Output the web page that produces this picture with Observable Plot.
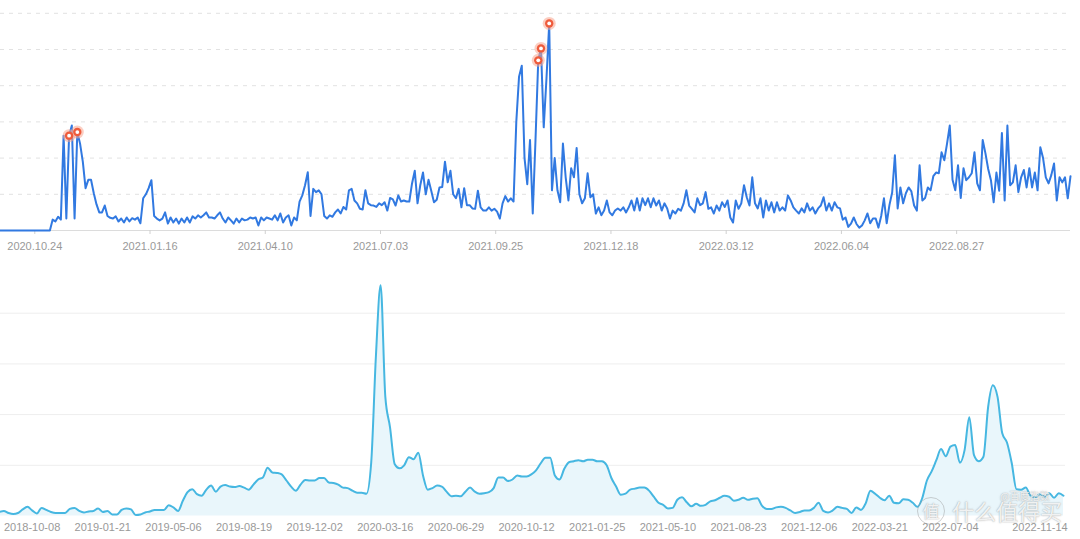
<!DOCTYPE html>
<html>
<head>
<meta charset="utf-8">
<script src="https://cdn.jsdelivr.net/npm/d3@7"></script>
<script src="https://cdn.jsdelivr.net/npm/@observablehq/plot@0.6"></script>
<style>
  html, body { margin: 0; padding: 0; background: #fff; overflow: hidden; }
  #wrap { position: relative; width: 1080px; height: 539px; }
  #wrap svg { display: block; }
  .wm { position: absolute; color: rgba(255,255,255,0.85); font-family: "Noto Sans CJK SC", sans-serif; line-height: 1;
        text-shadow: 0 0 1px rgba(120,120,120,0.55), 0 0 2px rgba(120,120,120,0.35); white-space: nowrap; }
</style>
</head>
<body>
<div id="wrap">
  <div id="top"></div>
  <div id="bottom"></div>
  <div class="wm" style="left:1000px;top:491px;font-size:10px;">@百度指数</div>
  <div class="wm" style="left:917px;top:497px;font-size:17px;width:26px;height:26px;border-radius:50%;border:1px solid rgba(150,150,150,0.45);text-align:center;line-height:26px;">值</div>
  <div class="wm" style="left:952px;top:499px;font-size:22px;">什么值得买</div>
</div>
<script>
// ---------- data: top panel (daily search index, sampled every 2 days) ----------
const topStart = "2020-09-29";
const topStepDays = 2;
const topValues = [
  0,0,0,0,0,0,0,0,0,0,
  0,0,0,0,0,0,0,0,0,30,
  25,38,30,262,33,262,290,33,272,240,
  190,117,140,140,103,72,50,50,69,40,
  35,33,39,25,33,22,36,25,34,30,
  36,20,89,100,117,139,40,33,28,33,
  50,19,36,22,33,19,33,22,36,22,
  39,33,42,36,42,50,36,36,33,42,
  50,33,22,36,28,19,33,22,33,28,
  30,36,33,36,14,36,28,36,33,30,
  42,28,47,22,36,42,14,36,28,80,
  97,125,161,40,115,106,111,100,40,33,
  42,38,50,58,47,65,58,111,115,83,
  75,60,58,111,75,70,69,65,75,70,
  78,55,90,86,69,97,80,83,80,80,
  130,165,75,125,160,100,140,110,78,85,
  119,120,190,133,165,100,89,115,64,117,
  70,70,61,60,110,64,55,55,64,55,
  60,52,33,75,95,80,89,80,300,425,
  455,200,128,250,47,250,470,503,285,420,
  572,111,200,111,78,240,147,83,172,147,
  228,100,75,89,158,92,100,47,64,42,
  55,83,50,42,55,61,55,64,50,64,
  83,55,89,55,89,70,89,64,89,69,
  83,55,75,61,33,55,47,60,55,75,
  111,69,60,50,89,70,75,106,60,64,
  47,69,55,78,65,83,36,22,83,60,
  75,125,92,69,147,75,61,89,36,83,
  55,78,50,78,55,64,55,97,83,64,
  55,47,61,50,75,55,64,47,61,69,
  92,55,75,55,78,64,61,30,36,10,
  19,36,18,8,14,28,47,20,33,33,
  8,40,89,20,70,105,208,61,119,75,
  103,119,108,69,55,180,83,90,119,111,
  150,160,158,216,194,240,290,140,111,180,
  90,172,139,147,158,216,130,111,250,213,
  170,139,78,160,110,269,83,290,125,133,
  180,106,147,167,119,172,119,160,111,230,
  200,147,130,153,185,83,147,133,147,89,
  150
];
const topPeakDates = ["2020-11-18", "2020-11-24", "2021-10-26", "2021-10-28", "2021-11-03"];
const topTickLabels = ["2020.10.24","2021.01.16","2021.04.10","2021.07.03","2021.09.25","2021.12.18","2022.03.12","2022.06.04","2022.08.27"];
const topDomain = ["2020-09-29", "2022-11-18"];
const topGrid = [100, 200, 300, 400, 500, 600];

// ---------- data: bottom panel (weekly search index) ----------
const bottomStart = "2018-08-20";
const bottomStepDays = 7;
const bottomValues = [
  8,10,6,4,6,13,18,11,5,16,
  12,8,6,6,6,14,16,10,7,9,
  10,15,8,10,3,3,12,15,13,2,
  3,7,9,12,12,12,21,17,10,30,
  47,53,43,40,52,60,48,58,61,58,
  57,59,56,52,62,72,76,95,86,85,
  82,70,58,50,62,71,70,70,75,75,
  66,65,62,56,55,50,46,46,44,105,
  315,455,235,175,102,94,100,116,112,125,
  80,52,55,60,58,48,39,40,39,48,
  56,48,44,45,47,55,76,76,69,72,
  80,78,78,82,90,104,115,115,80,72,
  93,106,108,110,108,111,111,108,108,100,
  75,58,42,44,52,54,56,56,50,38,
  26,22,15,16,32,37,27,19,24,20,
  22,29,31,36,40,38,30,32,36,32,
  34,35,20,14,14,17,18,16,11,6,
  8,11,11,16,26,10,7,11,18,16,
  14,6,17,12,25,50,44,36,31,40,
  26,25,33,32,26,18,35,70,88,110,
  132,118,137,140,105,130,195,120,108,117,
  215,258,235,163,145,105,53,52,56,40,
  37,43,38,45,36,45,40
];
const bottomTickLabels = ["2018-10-08","2019-01-21","2019-05-06","2019-08-19","2019-12-02","2020-03-16","2020-06-29","2020-10-12","2021-01-25","2021-05-10","2021-08-23","2021-12-06","2022-03-21","2022-07-04","2022-11-14"];
const bottomDomain = ["2018-08-22", "2022-12-22"];
const bottomGrid = [100, 200, 300, 400];

// ---------- build tables ----------
const parse = s => new Date(s.replace(/\./g, "-") + "T00:00:00Z");
const topData = topValues.map((v, i) => ({date: d3.utcDay.offset(parse(topStart), i * topStepDays), value: v}));
const peakSet = new Set(topPeakDates);
const topPeaks = topData.filter(d => peakSet.has(d3.utcFormat("%Y-%m-%d")(d.date)));
const bottomData = bottomValues.map((v, i) => ({date: d3.utcDay.offset(parse(bottomStart), i * bottomStepDays), value: v}));

const font = "'Liberation Sans', Arial, sans-serif";

const topChart = Plot.plot({
  width: 1080, height: 260,
  marginLeft: 0, marginRight: 10, marginTop: 12.8, marginBottom: 30,
  style: {fontFamily: font, fontSize: "11px", color: "#999", background: "transparent"},
  x: {type: "utc", domain: topDomain.map(parse)},
  y: {domain: [0, 600], axis: null},
  marks: [
    Plot.gridY(topGrid, {stroke: "#e2e2e2", strokeOpacity: 1, strokeDasharray: "4,5"}),
    Plot.ruleY([0], {stroke: "#dcdcdc"}),
    Plot.axisX(topTickLabels.map(parse), {
      tickFormat: d3.utcFormat("%Y.%m.%d"), tickSize: 4, tickPadding: 7.5,
      stroke: "#d0d0d0", fill: "#999"
    }),
    Plot.lineY(topData, {x: "date", y: "value", stroke: "#3179e1", strokeWidth: 2}),
    Plot.dot(topPeaks, {x: "date", y: "value", r: 6.5, fill: "#f7a58f", fillOpacity: 0.55}),
    Plot.dot(topPeaks, {x: "date", y: "value", r: 4.2, fill: "#ef5b3b"}),
    Plot.dot(topPeaks, {x: "date", y: "value", r: 1.9, fill: "#fff"})
  ]
});

const bottomChart = Plot.plot({
  width: 1080, height: 279,
  marginLeft: 0, marginRight: 15, marginTop: 2, marginBottom: 23.5,
  style: {fontFamily: font, fontSize: "11px", color: "#999", background: "transparent"},
  x: {type: "utc", domain: bottomDomain.map(parse)},
  y: {domain: [0, 500], axis: null},
  marks: [
    Plot.gridY(bottomGrid, {stroke: "#eeeeee", strokeOpacity: 1}),
    Plot.areaY(bottomData, {x: "date", y: "value", fill: "#e9f6fb", curve: "monotone-x"}),
    Plot.axisX(bottomTickLabels.map(parse), {
      tickFormat: d3.utcFormat("%Y-%m-%d"), tickSize: 0, tickPadding: 7, fill: "#999"
    }),
    Plot.lineY(bottomData, {x: "date", y: "value", stroke: "#46b7e1", strokeWidth: 2, curve: "monotone-x"})
  ]
});

document.getElementById("top").appendChild(topChart);
document.getElementById("bottom").appendChild(bottomChart);
</script>
</body>
</html>
